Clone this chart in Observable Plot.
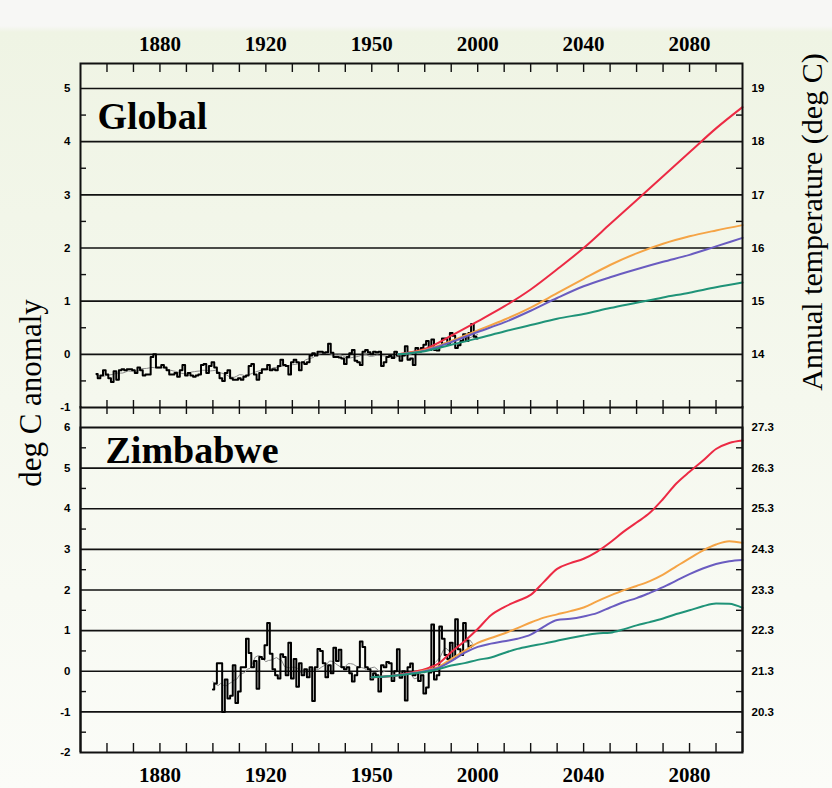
<!DOCTYPE html>
<html>
<head>
<meta charset="utf-8">
<script src="https://cdn.jsdelivr.net/npm/d3@7"></script>
<script src="https://cdn.jsdelivr.net/npm/@observablehq/plot@0.6"></script>
<style>
html, body { margin: 0; padding: 0; }
body { width: 832px; height: 788px; overflow: hidden;
  background: linear-gradient(to bottom, #f7f7f5 0px, #f7f7f5 26px, #eff4e4 32px, #f5f8ee 400px, #fbfcf8 788px); }
#wrap { position: relative; width: 832px; height: 788px; }
#wrap svg { position: absolute; left: 0; background: transparent; overflow: visible; }
.vt { position: absolute; white-space: nowrap; font-family: "Liberation Serif", "Times New Roman", serif;
  color: #000; transform: translate(-50%, -50%) rotate(-90deg); }
</style>
</head>
<body>
<div id="wrap"></div>
<script>
// ---------------- data ----------------
const xTickYears  = [1880, 1920, 1960, 2000, 2040, 2080];
const xTickLabels = ["1880", "1920", "1950", "2000", "2040", "2080"];
const decadeTicks = [1860, 1870, 1880, 1890, 1900, 1910, 1920, 1930, 1940, 1950, 1960, 1970,
                     1980, 1990, 2000, 2010, 2020, 2030, 2040, 2050, 2060, 2070, 2080, 2090];

// Global panel
const globalLeftTicks  = [-1, 0, 1, 2, 3, 4, 5];
const globalRightTicks = [0, 1, 2, 3, 4, 5];
const globalRightLabels = ["14", "15", "16", "17", "18", "19"];
const globalGrid = [0, 1, 2, 3, 4, 5];
const globalHalf = [-0.5, 0.5, 1.5, 2.5, 3.5, 4.5];
const globalObsStart = 1856;
const globalObs = [
  -0.37,-0.45,-0.40,-0.30,-0.38,-0.45,-0.52,-0.32,-0.48,-0.30,
  -0.28,-0.30,-0.28,-0.28,-0.30,-0.35,-0.25,-0.30,-0.40,-0.38,
  -0.38,-0.05, 0.00,-0.25,-0.25,-0.20,-0.25,-0.30,-0.38,-0.38,
  -0.35,-0.42,-0.30,-0.20,-0.40,-0.35,-0.40,-0.42,-0.40,-0.38,
  -0.20,-0.18,-0.35,-0.22,-0.15,-0.25,-0.35,-0.45,-0.50,-0.35,
  -0.30,-0.45,-0.48,-0.48,-0.45,-0.48,-0.42,-0.40,-0.22,-0.18,
  -0.38,-0.48,-0.35,-0.28,-0.28,-0.20,-0.30,-0.28,-0.30,-0.22,
  -0.10,-0.20,-0.22,-0.38,-0.15,-0.10,-0.15,-0.30,-0.15,-0.18,
  -0.15,-0.02, 0.02,-0.02, 0.05, 0.05, 0.03, 0.04, 0.20, 0.03,
  -0.05,-0.05,-0.06,-0.08,-0.18,-0.05, 0.02, 0.08,-0.12,-0.15,
  -0.20, 0.05, 0.08, 0.04, 0.00, 0.05, 0.04, 0.05,-0.22,-0.15,
  -0.05,-0.03,-0.07, 0.05,-0.02,-0.12,-0.02, 0.15,-0.10,-0.08,
  -0.20, 0.12, 0.05, 0.12, 0.18, 0.25, 0.08, 0.28, 0.08, 0.07,
   0.15, 0.30, 0.30, 0.20, 0.40, 0.35, 0.12, 0.17, 0.25, 0.38,
   0.25, 0.40, 0.57, 0.33, 0.30
];
const globalProjYears = [1970,1980,1990,2000,2010,2020,2030,2040,2050,2060,2070,2080,2090,2100];
const globalA1FI = [0.00,0.10,0.35,0.62,0.90,1.22,1.60,2.00,2.45,2.90,3.35,3.80,4.25,4.65];
const globalA2   = [0.00,0.08,0.25,0.45,0.65,0.88,1.15,1.42,1.68,1.90,2.08,2.22,2.33,2.43];
const globalB2   = [0.00,0.07,0.23,0.42,0.60,0.82,1.06,1.28,1.45,1.60,1.74,1.87,2.03,2.19];
const globalB1   = [0.00,0.06,0.18,0.30,0.43,0.55,0.67,0.76,0.87,0.97,1.07,1.16,1.26,1.35];

// Zimbabwe panel
const zimLeftTicks  = [-2, -1, 0, 1, 2, 3, 4, 5, 6];
const zimRightTicks = [-1, 0, 1, 2, 3, 4, 5, 6];
const zimRightLabels = ["20.3", "21.3", "22.3", "23.3", "24.3", "25.3", "26.3", "27.3"];
const zimGrid = [-1, 0, 1, 2, 3, 4, 5];
const zimHalf = [-1.5, -0.5, 0.5, 1.5, 2.5, 3.5, 4.5, 5.5];
const zimObsStart = 1900;
const zimObs = [
  -0.45,-0.30, 0.20, 0.20,-1.00,-0.20,-0.67,-0.60, 0.15,-0.78,
  -0.50, 0.10, 0.10, 0.80, 0.45, 0.10, 0.25,-0.43, 0.35, 0.30,
   0.64, 1.19, 0.43, 0.05,-0.10,-0.18, 0.42, 0.35,-0.10, 0.70,
  -0.18, 0.30,-0.38, 0.20,-0.10, 0.05,-0.15, 0.10,-0.73, 0.10,
   0.55, 0.50, 0.20,-0.15, 0.15,-0.05, 0.58, 0.25, 0.53, 0.10,
   0.05, 0.10,-0.05,-0.25,-0.10, 0.10, 0.73, 0.60, 0.10, 0.05,
  -0.20,-0.05,-0.10,-0.50, 0.15, 0.10, 0.23, 0.20,-0.24, 0.00,
   0.54,-0.16, 0.00,-0.72, 0.10, 0.19,-0.10,-0.05,-0.24,-0.10,
  -0.55,-0.40,-0.03, 1.15,-0.20,-0.10, 1.10, 0.80, 0.40, 0.30,
   0.70, 0.32, 1.28, 0.54, 0.40, 1.19, 0.76, 0.60, 0.63
];
const zimProjYears = [1960,1965,1970,1975,1980,1985,1990,1995,2000,2005,2010,2015,2020,2025,2030,
                      2035,2040,2045,2050,2055,2060,2065,2070,2075,2080,2085,2090,2095,2100];
const zimA1FI = [-0.15,-0.13,-0.09,-0.03,0.05,0.18,0.47,0.74,1.04,1.38,1.58,1.73,1.88,2.20,2.52,
                 2.66,2.77,2.94,3.17,3.43,3.66,3.90,4.24,4.62,4.91,5.18,5.47,5.62,5.68];
const zimA2   = [-0.15,-0.13,-0.10,-0.05,0.02,0.10,0.30,0.50,0.70,0.82,0.93,1.06,1.20,1.32,1.40,
                 1.48,1.57,1.72,1.86,1.99,2.10,2.22,2.38,2.58,2.78,2.97,3.12,3.20,3.16];
const zimB2   = [-0.15,-0.13,-0.10,-0.05,0.00,0.08,0.25,0.45,0.60,0.68,0.74,0.80,0.90,1.10,1.26,
                 1.29,1.35,1.43,1.57,1.70,1.80,1.93,2.07,2.23,2.39,2.53,2.64,2.71,2.74];
const zimB1   = [-0.15,-0.13,-0.10,-0.06,-0.02,0.05,0.14,0.20,0.28,0.34,0.45,0.55,0.62,0.68,0.75,
                 0.82,0.88,0.93,0.95,1.03,1.13,1.21,1.30,1.41,1.50,1.60,1.67,1.66,1.56];

const scenarioNames  = ["A1FI", "A2", "B2", "B1"];
const scenarioColors = ["#ec2a44", "#f5a446", "#6a5cc0", "#1f9378"];

// ---------------- helpers ----------------
const SERIF = "Liberation Serif, Times New Roman, serif";
const SANS = "Liberation Sans, Arial, sans-serif";

function obsTable(start, vals) { return vals.map((v, i) => ({year: start + i, value: v})); }
function projTable(years, series) {
  const rows = [];
  series.forEach((vals, s) => vals.forEach((v, i) => rows.push({scenario: scenarioNames[s], year: years[i], value: v})));
  return rows;
}

function panel(o) {
  const plotW = o.width - o.ml - o.mr;
  const plotH = o.height - o.mt - o.mb;
  const obs = obsTable(o.obsStart, o.obs);
  const proj = projTable(o.projYears, o.proj);
  const marks = [
    Plot.ruleY(o.grid, {stroke: "#111", strokeWidth: 1.6}),
    Plot.ruleY(o.half, {stroke: "#111", strokeWidth: 1.4, insetRight: plotW - 6}),
    Plot.ruleY(o.half, {stroke: "#111", strokeWidth: 1.4, insetLeft: plotW - 6}),
    Plot.lineY(obs, Plot.windowY({k: 11, anchor: "middle"}, {x: "year", y: "value", stroke: "#8a8a8a", strokeWidth: 1})),
    Plot.line(obs, {x: "year", y: "value", curve: "step", stroke: "#000", strokeWidth: 2}),
    Plot.line(proj, {x: "year", y: "value", z: "scenario", stroke: "scenario", curve: "monotone-x", strokeWidth: 2}),
    Plot.frame({stroke: "#111", strokeWidth: 2}),
    Plot.axisY({anchor: "left", ticks: o.leftTicks, tickSize: 0, tickPadding: 10, label: null,
      fontSize: 11.5, fontWeight: "bold", fontFamily: SANS, tickFormat: d => String(d)}),
    Plot.axisY({anchor: "right", ticks: o.rightTicks, tickSize: 0, tickPadding: 9, label: null,
      fontSize: 11.5, fontWeight: "bold", fontFamily: SANS, tickFormat: (d, i) => o.rightLabels[i]}),
    Plot.axisX({anchor: o.xAnchor, ticks: xTickYears, tickSize: 0, tickPadding: o.xPad, label: null,
      fontSize: 21, fontWeight: "bold", fontFamily: SERIF, tickFormat: (d, i) => xTickLabels[i]}),
    Plot.text([o.title], {frameAnchor: "top-left", textAnchor: "start", lineAnchor: "top",
      dx: o.titleDx, dy: o.titleDy, text: d => d, fontSize: 38, fontWeight: "bold", fontFamily: SERIF, fill: "#000"}),
    ...o.extra(plotW, plotH)
  ];
  return Plot.plot({
    width: o.width, height: o.height,
    marginLeft: o.ml, marginRight: o.mr, marginTop: o.mt, marginBottom: o.mb,
    x: {domain: [1850, 2100]},
    y: {domain: o.yDomain},
    color: {domain: scenarioNames, range: scenarioColors},
    style: {background: "transparent", overflow: "visible"},
    marks
  });
}

const wrap = document.getElementById("wrap");

const g = panel({
  width: 832, height: 420, ml: 80, mr: 90, mt: 63, mb: 13,
  yDomain: [-1, 5.47],
  grid: globalGrid, half: globalHalf,
  leftTicks: globalLeftTicks, rightTicks: globalRightTicks, rightLabels: globalRightLabels,
  obsStart: globalObsStart, obs: globalObs,
  projYears: globalProjYears, proj: [globalA1FI, globalA2, globalB2, globalB1],
  xAnchor: "top", xPad: 13,
  title: "Global", titleDx: 17, titleDy: 39,
  extra: (pw, ph) => [
    Plot.ruleX(decadeTicks, {stroke: "#111", strokeWidth: 1.4, insetBottom: ph - 9}),
    Plot.ruleX(decadeTicks, {stroke: "#111", strokeWidth: 1.4, insetTop: ph - 7, insetBottom: -7})
  ]
});
g.style.top = "0px";
wrap.appendChild(g);

const z = panel({
  width: 832, height: 388, ml: 80, mr: 90, mt: 27, mb: 36,
  yDomain: [-2, 6],
  grid: zimGrid, half: zimHalf,
  leftTicks: zimLeftTicks, rightTicks: zimRightTicks, rightLabels: zimRightLabels,
  obsStart: zimObsStart, obs: zimObs,
  projYears: zimProjYears, proj: [zimA1FI, zimA2, zimB2, zimB1],
  xAnchor: "bottom", xPad: 15,
  title: "Zimbabwe", titleDx: 25, titleDy: 9,
  extra: (pw, ph) => [
    Plot.ruleX(decadeTicks, {stroke: "#111", strokeWidth: 1.4, insetTop: ph - 9}),
    Plot.ruleX([1850, 2100], {stroke: "#111", strokeWidth: 2, insetTop: -21})
  ]
});
z.style.top = "400px";
wrap.appendChild(z);

// axis titles
const lt = document.createElement("div");
lt.className = "vt";
lt.textContent = "deg C anomaly";
lt.style.cssText = "left:31px;top:393px;font-size:31px;";
wrap.appendChild(lt);

const rt = document.createElement("div");
rt.className = "vt";
rt.textContent = "Annual temperature (deg C)";
rt.style.cssText = "left:812px;top:222px;font-size:30px;";
wrap.appendChild(rt);
</script>
</body>
</html>
